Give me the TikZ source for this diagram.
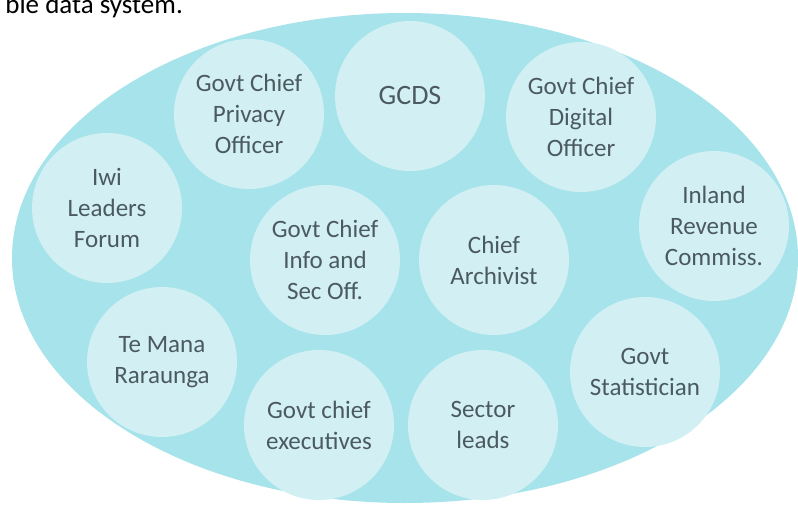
\documentclass[tikz,border=0pt]{standalone}
\usepackage{fontspec}
\setmainfont{Carlito}
\definecolor{outerfill}{HTML}{A6E3EA}
\definecolor{bubblefill}{HTML}{D2F0F4}
\definecolor{bubbletext}{HTML}{4B5960}
\begin{document}
\begin{tikzpicture}[x=1pt, y=-1pt,
    bubble/.style={circle, fill=bubblefill, minimum size=150pt, inner sep=0pt,
      align=center, text=bubbletext, font=\fontsize{25}{31}\selectfont}]
    \useasboundingbox (0,0) rectangle (798,504);
    \node[anchor=base east, inner sep=0pt, font=\fontsize{27}{32}\selectfont] (caption) at (183,13) {ble data system.};
    \fill[outerfill] (405,258) ellipse [x radius=393, y radius=245];
    \node[bubble, font=\fontsize{28}{33}\selectfont] (gcds) at (410,96) {GCDS};
    \node[bubble] (privacy) at (249,114) {Govt Chief\\Privacy\\Officer};
    \node[bubble] (digital) at (581,117) {Govt Chief\\Digital\\Officer};
    \node[bubble] (iwi) at (107,208) {Iwi\\Leaders\\Forum};
    \node[bubble] (inland) at (714,226) {Inland\\Revenue\\Commiss.};
    \node[bubble] (info) at (325,260) {Govt Chief\\Info and\\Sec Off.};
    \node[bubble] (archivist) at (494,260) {Chief\\Archivist};
    \node[bubble] (temana) at (162,362) {Te Mana\\Raraunga};
    \node[bubble] (statistician) at (645,372) {Govt\\Statistician};
    \node[bubble] (chiefexec) at (319,425) {Govt chief\\executives};
    \node[bubble] (sector) at (483,425) {Sector\\leads};
  \end{tikzpicture}
\end{document}
